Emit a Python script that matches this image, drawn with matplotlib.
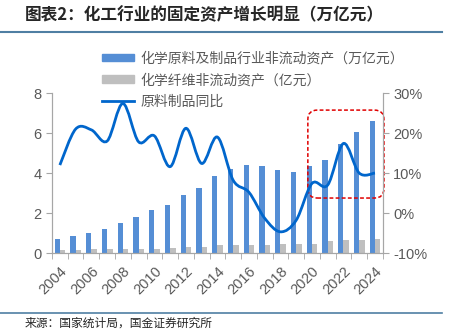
import numpy as np
import matplotlib
matplotlib.use("Agg")
import matplotlib.pyplot as plt
from matplotlib.path import Path
from matplotlib.patches import PathPatch, FancyBboxPatch, Patch
from matplotlib.lines import Line2D

plt.rcParams['font.family'] = ['Noto Sans CJK SC', 'DejaVu Sans']

years = list(range(2004, 2025))
# 化学原料及制品行业非流动资产（万亿元）
chem_assets = [0.70, 0.85, 1.02, 1.20, 1.50, 1.80, 2.17, 2.40, 2.90, 3.26, 3.86,
               4.22, 4.40, 4.33, 4.13, 4.05, 4.33, 4.67, 5.45, 6.05, 6.58]
# 化学纤维非流动资产（亿元）
fiber_assets = [0.15, 0.15, 0.20, 0.20, 0.20, 0.20, 0.20, 0.25, 0.32, 0.32, 0.38,
                0.38, 0.38, 0.42, 0.45, 0.47, 0.47, 0.58, 0.65, 0.65, 0.70]
# 原料制品同比 (%)
yoy = [12.0, 21.0, 20.8, 18.0, 27.4, 17.8, 19.3, 11.6, 21.2, 12.4, 19.0,
       8.2, 5.2, -1.3, -4.7, -1.8, 7.4, 7.0, 17.4, 10.0, 10.0]

labels = ["化学原料及制品行业非流动资产（万亿元）", "化学纤维非流动资产（亿元）", "原料制品同比"]
blue = "#558ED5"
gray = "#BFBFBF"
line_c = "#0066CC"
txt_c = "#595959"
ax_c = "#A6A6A6"


def smooth_path(xs, ys, k=1.0 / 6):
    # excel-style smoothed line: cubic bezier through each point
    pts = np.column_stack([xs, ys]).astype(float)
    verts = [pts[0]]
    codes = [Path.MOVETO]
    n = len(pts)
    for i in range(n - 1):
        p0 = pts[i - 1] if i > 0 else pts[i]
        p1 = pts[i]
        p2 = pts[i + 1]
        p3 = pts[i + 2] if i + 2 < n else pts[i + 1]
        c1 = p1 + (p2 - p0) * k
        c2 = p2 - (p3 - p1) * k
        verts += [c1, c2, p2]
        codes += [Path.CURVE4] * 3
    return Path(verts, codes)


fig = plt.figure(figsize=(4.52, 3.29), dpi=100)
ax = fig.add_axes([0.115, 0.231, 0.732, 0.486])
ax2 = ax.twinx()

x = np.arange(len(years))
ax.bar(x - 0.17, chem_assets, width=0.33, color=blue, zorder=2)
ax.bar(x + 0.17, fiber_assets, width=0.35, color=gray, zorder=2)

ax.set_xlim(-0.5, len(years) - 0.5)
ax.set_ylim(0, 8)
ax.set_yticks([0, 2, 4, 6, 8])
ax.set_xticks(x[::2])
ax.set_xticklabels([str(y) for y in years[::2]], rotation=45, ha='right',
                   va='top', rotation_mode='anchor')
ax.set_xticks(np.arange(-0.5, len(years)), minor=True)
ax.tick_params(axis='x', which='major', length=0, pad=8, labelsize=10.5, labelcolor=txt_c)
ax.tick_params(axis='x', which='minor', length=4, color=ax_c)
ax.tick_params(axis='y', length=4, color=ax_c, labelsize=10.5, labelcolor=txt_c)
for lbl in ax.get_xticklabels():
    lbl.set_family(['Liberation Sans', 'DejaVu Sans'])
for lbl in ax.get_yticklabels():
    lbl.set_family(['Liberation Sans', 'DejaVu Sans'])

ax2.set_ylim(-10, 30)
ax2.set_yticks([-10, 0, 10, 20, 30])
ax2.set_yticklabels([f"{v}%" for v in [-10, 0, 10, 20, 30]])
ax2.tick_params(axis='y', length=4, color=ax_c, labelsize=10.5, labelcolor=txt_c)
for lbl in ax2.get_yticklabels():
    lbl.set_family(['Liberation Sans', 'DejaVu Sans'])

for a in (ax, ax2):
    a.spines['top'].set_visible(False)
    for s in ('left', 'right', 'bottom'):
        a.spines[s].set_color(ax_c)

ax2.add_patch(PathPatch(smooth_path(x, yoy), facecolor='none', edgecolor=line_c,
                        lw=2.0, zorder=3))

# red dashed highlight box over 2020-2024
box = FancyBboxPatch((15.74, 2.75), 20.57 - 15.74, 7.15 - 2.75,
                     boxstyle="round,pad=0,rounding_size=0.6", mutation_aspect=0.79,
                     fill=False, edgecolor="#E00000", lw=1.1, ls=(0, (2.5, 1.5)),
                     clip_on=False, zorder=4)
ax.add_patch(box)

handles = [Patch(color=blue), Patch(color=gray), Line2D([], [], color=line_c, lw=2.0)]
fig.legend(handles, labels, loc='upper left', bbox_to_anchor=(0.21, 0.865),
           frameon=False, fontsize=10, handlelength=2.3, handleheight=0.45,
           handletextpad=0.5, labelspacing=0.55, borderpad=0, labelcolor=txt_c)

fig.text(0.055, 0.955, "图表2：化工行业的固定资产增长明显（万亿元）", fontsize=12,
         fontweight='bold', color="#262626", va='center', ha='left')
fig.add_artist(Line2D([0.0, 0.978], [1 - 32 / 329] * 2, color="#4F7FA3", lw=1.5,
                      transform=fig.transFigure))
fig.add_artist(Line2D([0.0, 0.978], [1 - 313 / 329] * 2, color="#4F7FA3", lw=1.2,
                      transform=fig.transFigure))
fig.text(0.055, 1 - 317 / 329, "来源：国家统计局，国金证券研究所", fontsize=8.5,
         color="#262626", va='top', ha='left')

fig.savefig("out.png", dpi=100)
